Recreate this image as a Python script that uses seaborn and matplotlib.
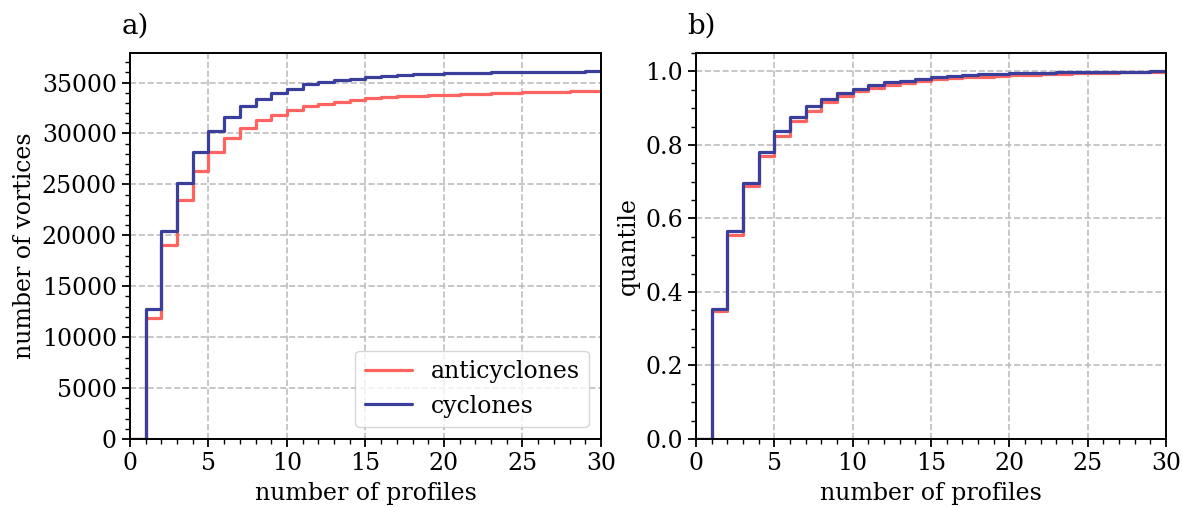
import numpy as np
import pandas as pd
import matplotlib
matplotlib.use('Agg')
import matplotlib.pyplot as plt
from matplotlib.ticker import MultipleLocator
import seaborn as sns

# number of profiles (left edge of each 1-wide bin)
n_profiles = list(range(0, 31))

# cumulative number of vortices
anticyclones = [0, 11870, 19010, 23500, 26350, 28150, 29570, 30510, 31370, 31860,
                32350, 32680, 32940, 33110, 33330, 33500, 33580, 33650, 33710, 33770,
                33820, 33870, 33920, 33960, 34000, 34040, 34080, 34110, 34140, 34170,
                34190]
cyclones = [0, 12750, 20450, 25140, 28150, 30290, 31600, 32680, 33430, 33990,
            34390, 34810, 35040, 35200, 35370, 35530, 35640, 35730, 35800, 35860,
            35910, 35950, 35985, 36010, 36030, 36045, 36060, 36070, 36080, 36090,
            36100]

colors = {'anticyclones': '#ff6461', 'cyclones': '#3a3f9c'}

sns.set_style('ticks')
plt.rcParams['font.family'] = ['DejaVu Serif']
plt.rcParams['font.size'] = 17
plt.rcParams['text.color'] = 'black'
plt.rcParams['axes.labelcolor'] = 'black'
plt.rcParams['axes.edgecolor'] = 'black'
plt.rcParams['xtick.color'] = 'black'
plt.rcParams['ytick.color'] = 'black'
plt.rcParams['xtick.direction'] = 'out'
plt.rcParams['ytick.direction'] = 'out'

frames = []
for name, vals in [('anticyclones', anticyclones), ('cyclones', cyclones)]:
    v = np.array(vals, dtype=float)
    frames.append(pd.DataFrame({'profiles': n_profiles, 'count': v,
                                'quantile': v / v[-1], 'type': name}))
df = pd.concat(frames, ignore_index=True)

fig = plt.figure(figsize=(11.82, 5.07), dpi=100)
ax1 = fig.add_axes([130 / 1182, 68 / 507, 471 / 1182, 386 / 507])
ax2 = fig.add_axes([696 / 1182, 68 / 507, 470 / 1182, 386 / 507])

sns.lineplot(data=df, x='profiles', y='count', hue='type', palette=colors,
             hue_order=['anticyclones', 'cyclones'], drawstyle='steps-post',
             linewidth=2.3, ax=ax1)
sns.lineplot(data=df, x='profiles', y='quantile', hue='type', palette=colors,
             hue_order=['anticyclones', 'cyclones'], drawstyle='steps-post',
             linewidth=2.3, ax=ax2, legend=False)

sns.move_legend(ax1, 'lower right', title=None, fontsize=17, frameon=True)

for ax in (ax1, ax2):
    ax.set_xlim(0, 30)
    ax.xaxis.set_major_locator(MultipleLocator(5))
    ax.xaxis.set_minor_locator(MultipleLocator(1))
    ax.set_xlabel('number of profiles', fontsize=17, labelpad=5)
    ax.grid(True, which='major', linestyle='--', color='#bdbdbd', linewidth=1.2)
    ax.tick_params(which='major', length=6, width=1.3, labelsize=17)
    ax.tick_params(which='minor', length=3.5, width=1.0)
    for s in ax.spines.values():
        s.set_linewidth(1.4)
        s.set_visible(True)

ax1.set_ylim(0, 37900)
ax1.yaxis.set_major_locator(MultipleLocator(5000))
ax1.yaxis.set_minor_locator(MultipleLocator(1000))
ax1.set_ylabel('number of vortices', fontsize=17)

ax2.set_ylim(0, 1.05)
ax2.yaxis.set_major_locator(MultipleLocator(0.2))
ax2.yaxis.set_minor_locator(MultipleLocator(0.05))
ax2.set_ylabel('quantile', fontsize=17)

ax1.text(-0.018, 1.035, 'a)', transform=ax1.transAxes, fontsize=20, ha='left', va='bottom')
ax2.text(-0.018, 1.035, 'b)', transform=ax2.transAxes, fontsize=20, ha='left', va='bottom')

fig.savefig('out.png', dpi=100)
